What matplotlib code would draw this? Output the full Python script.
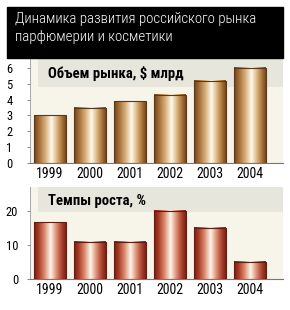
import numpy as np
import matplotlib
matplotlib.use('Agg')
import matplotlib.pyplot as plt
import matplotlib.font_manager as fm
from matplotlib.colors import LinearSegmentedColormap
from matplotlib.patches import Rectangle

# узкий шрифт — берем первый установленный
installed = set(f.name for f in fm.fontManager.ttflist)


def pick(cands):
    for c in cands:
        if c in installed:
            return [c, 'DejaVu Sans']
    return ['DejaVu Sans']


narrow = pick(['Roboto Condensed', 'PT Sans Narrow', 'Liberation Sans Narrow',
               'Archivo Narrow', 'Fira Sans Condensed', 'Sofia Sans Condensed'])
plt.rcParams['font.family'] = narrow

# данные
years = ['1999', '2000', '2001', '2002', '2003', '2004']
market = [3.0, 3.5, 3.9, 4.3, 5.2, 6.0]      # $ млрд
growth = [16.6, 11.0, 11.0, 20.0, 15.0, 5.0]  # %

title = 'Динамика развития российского рынка\nпарфюмерии и косметики'
top_label = 'Объем рынка, $ млрд'
bottom_label = 'Темпы роста, %'

# "объёмные" градиенты столбиков
gold = LinearSegmentedColormap.from_list('gold', [
    (0.0, '#6b431e'), (0.15, '#a36c36'), (0.35, '#d8ae78'),
    (0.55, '#fffaf0'), (0.72, '#dcb580'), (0.88, '#a87338'), (1.0, '#74481f')])
red = LinearSegmentedColormap.from_list('red', [
    (0.0, '#7a1a10'), (0.15, '#ad3e28'), (0.32, '#d8866a'),
    (0.52, '#fff6ec'), (0.68, '#e29c80'), (0.86, '#ad4430'), (1.0, '#7e2014')])

W, H = 290, 310
fig = plt.figure(figsize=(W / 100, H / 100), dpi=100)

# черная плашка заголовка
fig.patches.append(Rectangle((7 / W, 1 - 58 / H), 276 / W, 51 / H,
                             transform=fig.transFigure, color='black', zorder=0))
fig.text(15 / W, 1 - 12 / H, title, color='white', fontsize=10.7, fontweight='light',
         va='top', ha='left', linespacing=1.35)


def draw_panel(rect, values, cmap, edge, label, ytop, yticks, box_y, text_y, ypad):
    ax = fig.add_axes(rect)
    ax.set_facecolor('#f7f4ea')
    x = np.arange(len(values))
    grad = np.linspace(0, 1, 128).reshape(1, -1)
    for xi, v in zip(x, values):
        ax.imshow(grad, cmap=cmap, aspect='auto', interpolation='bilinear',
                  extent=(xi - 0.4, xi + 0.4, 0, v), zorder=3)
    ax.bar(x, values, width=0.8, fill=False, edgecolor=edge, linewidth=0.8, zorder=4)

    # плашка с подписью
    ax.add_patch(Rectangle((0.032, box_y), 0.968, 1 - box_y, transform=ax.transAxes,
                           facecolor='#e7e6dc', edgecolor='none', zorder=1))
    ax.text(0.071, text_y, label, transform=ax.transAxes, fontsize=10.6,
            fontweight='bold', va='center', ha='left', zorder=2)

    ax.set_xlim(-0.5, 5.825)
    ax.set_ylim(0, ytop)
    ax.set_xticks(x)
    ax.set_xticklabels(years, fontsize=10)
    ax.set_yticks(yticks)
    ax.tick_params(axis='x', length=0, pad=3)
    ax.tick_params(axis='y', length=2.5, width=0.6, color='#777777', labelsize=9, pad=ypad)
    for s in ['top', 'right']:
        ax.spines[s].set_visible(False)
    ax.spines['left'].set_color('#999999')
    ax.spines['left'].set_linewidth(0.6)
    ax.spines['bottom'].set_color('#777777')
    ax.spines['bottom'].set_linewidth(0.8)
    return ax


draw_panel([30 / W, 1 - 163 / H, 253 / W, 105 / H], market, gold, '#5a3818',
           top_label, 6.63, range(0, 7), 0.724, 0.857, 10)
draw_panel([30 / W, 1 - 279.3 / H, 253 / W, 92.3 / H], growth, red, '#5e1e12',
           bottom_label, 26.9, [0, 10, 20], 0.729, 0.852, 6)

fig.savefig('out.png', dpi=100)
